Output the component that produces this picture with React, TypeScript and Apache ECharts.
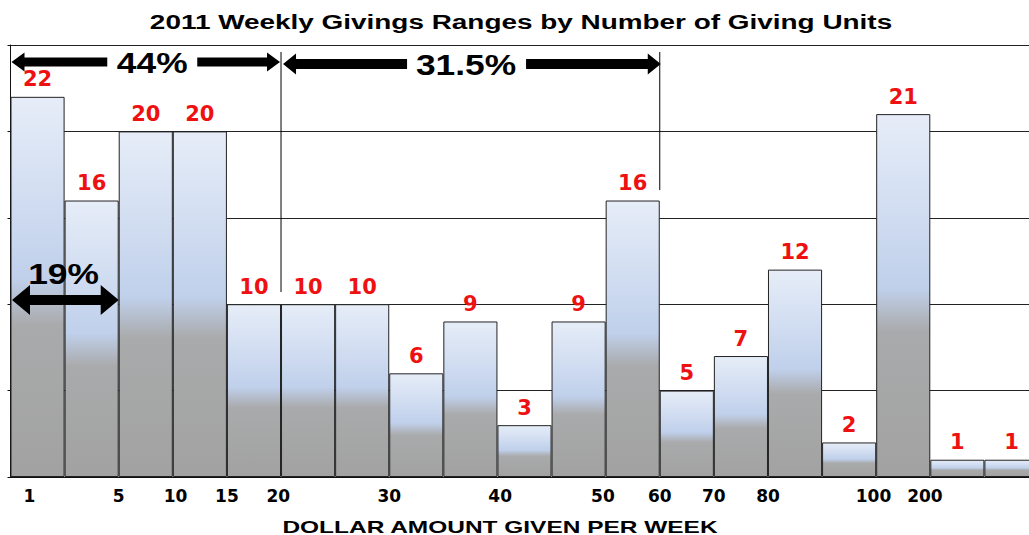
import React, { useEffect, useRef } from "react";
import * as echarts from "echarts";

// ---- data ----
const categories = [
  "$1", "1-5", "5-10", "10-15", "15-20", "20-25", "25-30", "30-35", "35-40", "40-45",
  "45-50", "50-60", "60-70", "70-80", "80-90", "90-100", "100-200", "200+", "200+ b",
];
const givingUnits = [22, 16, 20, 20, 10, 10, 10, 6, 9, 3, 9, 16, 5, 7, 12, 2, 21, 1, 1];

// dollar tick labels and where they sit along the bins (in bar-width units from the left edge)
const tickLabels = ["1", "5", "10", "15", "20", "30", "40", "50", "60", "70", "80", "100", "200"];
const tickPositions = [0.35, 2, 3.05, 4, 4.95, 7, 9.05, 10.95, 12, 13, 14, 15.95, 16.9];

// percentage brackets (from / to in bar-width units)
const bracketLabels = ["44%", "31.5%", "19%"];
const bracketFrom = [0, 5, 0];
const bracketTo = [5, 12, 2];
const bracketLabelAt = [2.62, 8.42, 0.98];

const TITLE = "2011 Weekly Givings Ranges by Number of Giving Units";
const AXIS_NAME = "DOLLAR AMOUNT GIVEN PER WEEK";

const LABEL_FONT = '"DejaVu Sans", "Liberation Sans", Arial, sans-serif';
const ARIAL = '"Liberation Sans", Arial, sans-serif';

export default function App() {
  const ref = useRef<HTMLDivElement>(null);

  useEffect(() => {
    if (!ref.current) return;
    const chart = echarts.init(ref.current, null, { renderer: "svg" });

    const barGradient = new echarts.graphic.LinearGradient(0, 0, 0, 1, [
      { offset: 0, color: "#e6edf8" },
      { offset: 0.48, color: "#c0d0eb" },
      { offset: 0.6, color: "#a9aaab" },
      { offset: 1, color: "#a2a2a2" },
    ]);

    const option: any = {
      animation: false,
      backgroundColor: "#ffffff",
      grid: { left: 10.5, top: 45, width: 1028, height: 432, containLabel: false },
      xAxis: [
        {
          type: "category",
          data: categories,
          boundaryGap: true,
          axisLine: { show: true, lineStyle: { color: "#111", width: 1 } },
          axisTick: { show: false },
          axisLabel: { show: false },
          splitLine: { show: false },
        },
        {
          type: "value",
          min: 0,
          max: 19,
          position: "bottom",
          axisLine: { show: false },
          axisTick: { show: false },
          splitLine: { show: false },
          axisLabel: {
            show: true,
            customValues: tickPositions,
            formatter: (v: number) => {
              let best = 0;
              for (let i = 0; i < tickPositions.length; i++) {
                if (Math.abs(tickPositions[i] - v) < Math.abs(tickPositions[best] - v)) best = i;
              }
              return tickLabels[best];
            },
            color: "#000",
            fontFamily: LABEL_FONT,
            fontWeight: "bold",
            fontSize: 17,
            margin: 10,
          },
        },
      ],
      yAxis: {
        type: "value",
        min: 0,
        max: 25,
        interval: 5,
        axisLine: { show: true, lineStyle: { color: "#111", width: 1 } },
        axisTick: { show: true, length: 3, lineStyle: { color: "#111" } },
        axisLabel: { show: false },
        splitLine: { show: true, lineStyle: { color: "#222", width: 1 } },
      },
      series: [
        {
          type: "bar",
          data: givingUnits,
          xAxisIndex: 0,
          yAxisIndex: 0,
          barCategoryGap: "0%",
          itemStyle: { color: barGradient, borderColor: "#222", borderWidth: 1 },
          label: {
            show: true,
            position: "top",
            distance: 7,
            color: "#ee1111",
            fontFamily: LABEL_FONT,
            fontWeight: "bold",
            fontSize: 21,
          },
        },
      ],
    };

    chart.setOption(option);

    const px = (v: number) => chart.convertToPixel({ xAxisIndex: 1 }, v) as number;

    const halfArrowLeft = (x1: number, x2: number, y: number, t: number, hl: number, hh: number) => ({
      type: "polygon",
      z: 20,
      shape: {
        points: [
          [x1, y], [x1 + hl, y - hh], [x1 + hl, y - t / 2], [x2, y - t / 2],
          [x2, y + t / 2], [x1 + hl, y + t / 2], [x1 + hl, y + hh],
        ],
      },
      style: { fill: "#000" },
    });
    const halfArrowRight = (x1: number, x2: number, y: number, t: number, hl: number, hh: number) => ({
      type: "polygon",
      z: 20,
      shape: {
        points: [
          [x1, y - t / 2], [x2 - hl, y - t / 2], [x2 - hl, y - hh], [x2, y],
          [x2 - hl, y + hh], [x2 - hl, y + t / 2], [x1, y + t / 2],
        ],
      },
      style: { fill: "#000" },
    });
    const fullArrow = (x1: number, x2: number, y: number, t: number, hl: number, hh: number) => ({
      type: "polygon",
      z: 20,
      shape: {
        points: [
          [x1, y], [x1 + hl, y - hh], [x1 + hl, y - t / 2], [x2 - hl, y - t / 2],
          [x2 - hl, y - hh], [x2, y], [x2 - hl, y + hh], [x2 - hl, y + t / 2],
          [x1 + hl, y + t / 2], [x1 + hl, y + hh],
        ],
      },
      style: { fill: "#000" },
    });
    const pctText = (text: string, x: number, y: number) => ({
      type: "text",
      z: 21,
      x,
      y,
      scaleX: 1.22,
      style: {
        text,
        x: 0,
        y: 0,
        font: `bold 29px ${ARIAL}`,
        fill: "#000",
        textAlign: "center",
        textVerticalAlign: "middle",
        align: "center",
        verticalAlign: "middle",
      },
    });

    const graphics: any[] = [];

    // title
    graphics.push({
      type: "text",
      x: 521,
      y: 22,
      scaleX: 1.33,
      style: {
        text: TITLE,
        x: 0,
        y: 0,
        font: `bold 21px ${ARIAL}`,
        fill: "#000",
        textAlign: "center",
        textVerticalAlign: "middle",
        align: "center",
        verticalAlign: "middle",
      },
    });
    // axis name
    graphics.push({
      type: "text",
      x: 500,
      y: 527,
      scaleX: 1.53,
      style: {
        text: AXIS_NAME,
        x: 0,
        y: 0,
        font: `bold 16px ${ARIAL}`,
        fill: "#000",
        textAlign: "center",
        textVerticalAlign: "middle",
        align: "center",
        verticalAlign: "middle",
      },
    });

    // vertical divider lines
    graphics.push({
      type: "line",
      z: 15,
      shape: { x1: px(bracketTo[0]), y1: 52, x2: px(bracketTo[0]), y2: 292 },
      style: { stroke: "#000", lineWidth: 1 },
    });
    graphics.push({
      type: "line",
      z: 15,
      shape: { x1: px(bracketTo[1]), y1: 52, x2: px(bracketTo[1]), y2: 190 },
      style: { stroke: "#000", lineWidth: 1 },
    });

    // 44% bracket
    {
      const x1 = px(bracketFrom[0]) + 1;
      const x2 = px(bracketTo[0]) - 1;
      const cx = px(bracketLabelAt[0]);
      const y = 62;
      graphics.push(halfArrowLeft(x1, cx - 45, y, 9, 13, 9.5));
      graphics.push(halfArrowRight(cx + 45, x2, y, 9, 13, 9.5));
      graphics.push(pctText(bracketLabels[0], cx, y + 1));
    }
    // 31.5% bracket
    {
      const x1 = px(bracketFrom[1]) + 2;
      const x2 = px(bracketTo[1]) + 1;
      const cx = px(bracketLabelAt[1]);
      const y = 64;
      graphics.push(halfArrowLeft(x1, cx - 59, y, 10, 13, 10.5));
      graphics.push(halfArrowRight(cx + 60, x2, y, 10, 13, 10.5));
      graphics.push(pctText(bracketLabels[1], cx, y + 1));
    }
    // 19% bracket
    {
      const x1 = px(bracketFrom[2]) + 1.5;
      const x2 = px(bracketTo[2]);
      const cx = px(bracketLabelAt[2]);
      graphics.push(fullArrow(x1, x2, 300, 10, 18, 15));
      graphics.push(pctText(bracketLabels[2], cx, 274));
    }

    chart.setOption({ graphic: { elements: graphics } });

    return () => chart.dispose();
  }, []);

  return (
    <div
      style={{
        position: "absolute",
        left: 0,
        top: 0,
        width: 1029,
        height: 535,
        overflow: "hidden",
        background: "#fff",
      }}
    >
      <div ref={ref} style={{ width: 1045, height: 535 }} />
    </div>
  );
}
